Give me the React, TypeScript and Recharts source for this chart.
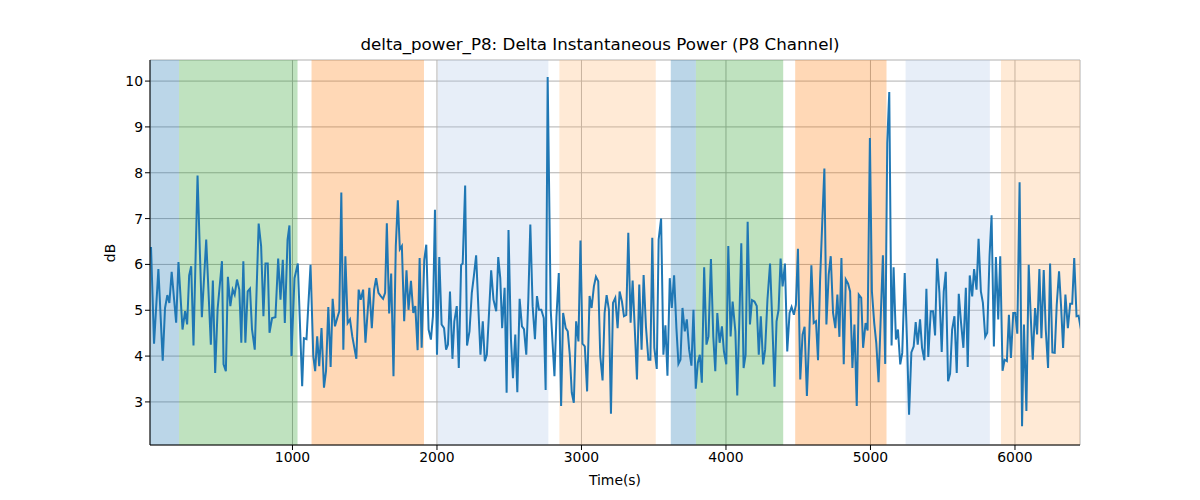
import { LineChart, Line, XAxis, YAxis, CartesianGrid, ReferenceArea } from "recharts";

const times = [
  21, 42, 72, 102, 118, 134, 148, 164, 195, 211, 239, 257, 271, 285, 299, 315, 343, 373, 403, 435,
  449, 465, 482, 512, 523, 539, 553, 570, 586, 600, 616, 632, 646, 660, 674, 690, 706, 720, 739, 766,
  783, 799, 813, 829, 841, 859, 882, 901, 917, 933, 947, 966, 979, 993, 1014, 1037, 1067, 1079, 1097, 1125,
  1144, 1157, 1171, 1185, 1201, 1218, 1232, 1248, 1264, 1278, 1294, 1310, 1324, 1338, 1352, 1366, 1382, 1398, 1414, 1442,
  1458, 1472, 1489, 1505, 1532, 1549, 1565, 1579, 1595, 1611, 1627, 1641, 1653, 1669, 1683, 1699, 1715, 1729, 1743, 1757,
  1773, 1789, 1803, 1820, 1836, 1850, 1866, 1880, 1894, 1912, 1926, 1942, 1958, 1972, 1986, 2000, 2016, 2032, 2049, 2063,
  2076, 2090, 2107, 2120, 2137, 2151, 2167, 2178, 2195, 2208, 2225, 2241, 2255, 2271, 2287, 2301, 2317, 2331, 2345, 2359,
  2375, 2391, 2410, 2424, 2438, 2451, 2468, 2482, 2495, 2512, 2526, 2542, 2556, 2572, 2588, 2602, 2618, 2632, 2646, 2662,
  2678, 2692, 2706, 2722, 2739, 2752, 2766, 2787, 2813, 2827, 2843, 2859, 2873, 2891, 2905, 2919, 2933, 2947, 2963, 2979,
  2993, 3007, 3023, 3039, 3056, 3070, 3086, 3100, 3116, 3130, 3146, 3160, 3174, 3190, 3204, 3218, 3234, 3250, 3264, 3280,
  3294, 3310, 3324, 3340, 3354, 3370, 3384, 3400, 3416, 3430, 3446, 3463, 3477, 3490, 3504, 3521, 3534, 3551, 3567, 3581,
  3595, 3611, 3625, 3641, 3657, 3671, 3685, 3699, 3715, 3729, 3745, 3761, 3775, 3791, 3805, 3819, 3833, 3849, 3865, 3879,
  3896, 3912, 3926, 3940, 3956, 3972, 3986, 4002, 4016, 4032, 4046, 4065, 4078, 4092, 4106, 4122, 4136, 4150, 4166, 4180,
  4197, 4213, 4227, 4241, 4257, 4271, 4287, 4305, 4319, 4336, 4350, 4364, 4378, 4392, 4408, 4424, 4440, 4454, 4470, 4484,
  4498, 4514, 4530, 4544, 4560, 4577, 4591, 4607, 4623, 4637, 4651, 4667, 4681, 4695, 4711, 4725, 4741, 4757, 4771, 4785,
  4799, 4815, 4829, 4845, 4859, 4875, 4889, 4905, 4919, 4936, 4949, 4966, 4980, 4996, 5010, 5026, 5040, 5056, 5072, 5086,
  5102, 5116, 5130, 5146, 5160, 5176, 5190, 5206, 5220, 5237, 5253, 5267, 5283, 5299, 5313, 5327, 5343, 5357, 5373, 5387,
  5400, 5417, 5433, 5447, 5461, 5477, 5493, 5507, 5521, 5537, 5551, 5565, 5581, 5597, 5611, 5627, 5643, 5660, 5673, 5687,
  5704, 5717, 5734, 5748, 5764, 5778, 5794, 5808, 5824, 5838, 5854, 5868, 5884, 5898, 5914, 5928, 5944, 5958, 5972, 5988,
  6002, 6016, 6032, 6049, 6062, 6079, 6095, 6109, 6123, 6139, 6153, 6169, 6183, 6199, 6213, 6229, 6243, 6259, 6275, 6289,
  6305, 6319, 6333, 6349, 6366, 6382, 6396, 6410, 6426, 6440, 6458, 6472,
];

const power = [
  6.38, 4.27, 5.9, 3.9, 5.05, 5.33, 5.16, 5.84, 4.73, 6.05, 4.58, 4.98, 4.69, 5.76, 5.96, 4.23, 7.94, 4.85, 6.54, 4.25,
  5.65, 3.63, 5.03, 6.07, 3.82, 3.67, 5.73, 5.09, 5.45, 5.34, 5.67, 5.45, 4.29, 6.07, 4.29, 5.41, 5.47, 4.58, 4.14, 6.89,
  6.4, 4.87, 6.02, 6.02, 4.51, 4.83, 4.85, 6.13, 5.23, 6.1, 4.72, 6.54, 6.85, 4.0, 5.7, 6.02, 3.34, 4.39, 4.37, 5.99,
  4.0, 3.67, 4.43, 3.78, 4.61, 3.31, 3.67, 5.07, 3.76, 5.25, 4.65, 4.83, 4.98, 7.57, 4.14, 6.18, 4.72, 4.8, 4.43, 3.94,
  5.45, 5.23, 5.45, 4.29, 5.49, 4.61, 5.45, 5.7, 5.38, 5.31, 5.25, 5.38, 6.9, 4.93, 5.8, 3.56, 6.4, 7.4, 6.33, 6.4,
  4.76, 5.87, 5.01, 5.64, 4.94, 5.09, 4.13, 6.14, 4.18, 6.1, 6.43, 4.58, 4.36, 4.87, 7.19, 4.03, 6.16, 4.69, 4.61, 4.14,
  4.25, 5.41, 3.94, 4.76, 5.09, 3.74, 5.99, 6.02, 7.72, 4.23, 4.54, 5.38, 5.74, 6.2, 5.01, 4.03, 4.76, 3.89, 4.03, 4.87,
  5.87, 5.23, 4.98, 6.16, 5.7, 4.61, 5.49, 3.2, 6.75, 4.36, 3.52, 4.47, 3.21, 5.25, 4.65, 4.59, 4.03, 5.23, 6.87, 5.09,
  4.37, 5.31, 5.01, 5.01, 4.83, 3.26, 10.09, 5.01, 3.56, 4.87, 5.81, 2.91, 4.94, 4.61, 4.54, 4.03, 3.2, 2.98, 4.76, 4.32,
  6.52, 4.27, 4.21, 3.23, 5.31, 5.05, 5.52, 5.73, 5.63, 4.0, 3.47, 4.94, 5.33, 5.01, 2.74, 5.16, 5.27, 4.61, 5.41, 5.19,
  4.87, 4.9, 6.69, 4.73, 5.65, 4.51, 3.49, 5.56, 4.14, 5.77, 4.65, 3.92, 3.92, 6.58, 4.18, 3.72, 6.54, 7.0, 4.03, 4.67,
  3.57, 5.7, 5.05, 5.76, 4.61, 3.83, 3.92, 5.05, 4.54, 4.8, 4.14, 3.79, 5.01, 3.29, 3.85, 4.03, 3.42, 5.94, 4.25, 4.43,
  6.12, 4.43, 3.67, 4.94, 4.29, 4.65, 4.1, 3.82, 6.4, 4.43, 5.19, 4.54, 3.14, 4.73, 6.46, 3.74, 4.03, 6.93, 4.69, 5.22,
  5.19, 5.09, 4.03, 4.87, 3.82, 4.14, 5.23, 6.02, 4.87, 3.33, 4.76, 5.01, 6.13, 5.52, 6.02, 4.1, 4.94, 5.07, 4.9, 5.12,
  6.34, 3.49, 4.47, 4.64, 3.13, 4.51, 5.98, 4.72, 4.76, 3.91, 5.63, 6.98, 8.09, 4.69, 5.78, 6.18, 4.94, 4.61, 5.34, 4.42,
  6.14, 3.82, 5.67, 5.58, 5.41, 3.74, 4.69, 2.91, 5.34, 5.27, 4.18, 4.72, 4.56, 8.76, 5.41, 4.72, 4.29, 3.43, 4.94, 6.2,
  3.83, 8.65, 9.76, 4.23, 5.94, 4.36, 4.58, 3.82, 4.07, 5.81, 4.3, 2.72, 4.08, 4.21, 4.74, 4.25, 4.8, 4.18, 3.91, 5.47,
  3.98, 4.98, 4.98, 4.45, 6.13, 5.38, 4.09, 5.41, 5.84, 3.45, 3.62, 4.58, 4.87, 3.63, 5.36, 4.72, 4.18, 5.49, 3.76, 5.76,
  5.3, 5.9, 5.45, 6.56, 5.41, 5.16, 4.42, 4.51, 6.18, 7.07, 4.21, 6.16, 4.8, 6.18, 3.68, 3.92, 3.89, 4.9, 3.96, 4.94,
  4.94, 4.49, 7.79, 2.47, 4.69, 2.8, 5.99, 4.87, 3.92, 5.05, 4.47, 5.9, 4.39, 5.88, 4.58, 3.74, 6.02, 4.08, 4.07, 5.12,
  5.85, 5.09, 4.18, 5.34, 4.61, 5.14, 5.14, 6.14, 4.87, 4.88, 4.56, 4.83,
];

// shaded segments: [start, end, colour, opacity]
const segStart = [14, 215, 1132, 2007, 2847, 3618, 3792, 4479, 5243, 5903];
const segEnd = [215, 1035, 1910, 2771, 3514, 3792, 4396, 5111, 5826, 6450];
const segColor = ["#1f77b4", "#2ca02c", "#ff7f0e", "#aec7e8", "#ffbb78", "#1f77b4", "#2ca02c", "#ff7f0e", "#aec7e8", "#ffbb78"];

const xTicks = [1000, 2000, 3000, 4000, 5000, 6000];
const yTicks = [3, 4, 5, 6, 7, 8, 9, 10];

const data = times.map((t, i) => ({ t, v: power[i] }));
const font = "DejaVu Sans, sans-serif";

export default function App() {
  return (
    <div style={{ position: "fixed", left: 0, top: 0, width: 1200, height: 500, background: "#fff", fontFamily: font }}>
      <div style={{ position: "absolute", top: 34, width: 1200, textAlign: "center", fontSize: 16.7, color: "#000" }}>
        delta_power_P8: Delta Instantaneous Power (P8 Channel)
      </div>
      <div style={{ position: "absolute", top: 472, left: 150, width: 930, textAlign: "center", fontSize: 13.9 }}>Time(s)</div>
      <div style={{ position: "absolute", left: 110, top: 253, transform: "translate(-50%,-50%) rotate(-90deg)", fontSize: 13.9 }}>dB</div>
      <LineChart width={1200} height={500} data={data} margin={{ top: 60, right: 120, bottom: 25, left: 90 }}>
        {segStart.map((s, i) => (
          <ReferenceArea key={i} x1={s} x2={segEnd[i]} fill={segColor[i]} fillOpacity={0.3} stroke="none" ifOverflow="hidden" />
        ))}
        <CartesianGrid stroke="#b0b0b0" strokeWidth={1} />
        <XAxis dataKey="t" type="number" domain={[14, 6450]} allowDataOverflow ticks={xTicks} height={30}
          stroke="#000" tick={{ fill: "#000", fontSize: 13.9, fontFamily: font }} tickSize={5} />
        <YAxis type="number" domain={[2.06, 10.46]} allowDataOverflow ticks={yTicks} width={60}
          stroke="#000" tick={{ fill: "#000", fontSize: 13.9, fontFamily: font }} tickSize={5} />
        <XAxis xAxisId="top" orientation="top" dataKey="t" type="number" domain={[14, 6450]} tick={false} tickLine={false} stroke="#000" height={0} />
        <YAxis yAxisId="right" orientation="right" domain={[2.06, 10.46]} tick={false} tickLine={false} stroke="#000" width={0} />
        <Line dataKey="v" stroke="#1f77b4" strokeWidth={2} dot={false} isAnimationActive={false} />
      </LineChart>
    </div>
  );
}
